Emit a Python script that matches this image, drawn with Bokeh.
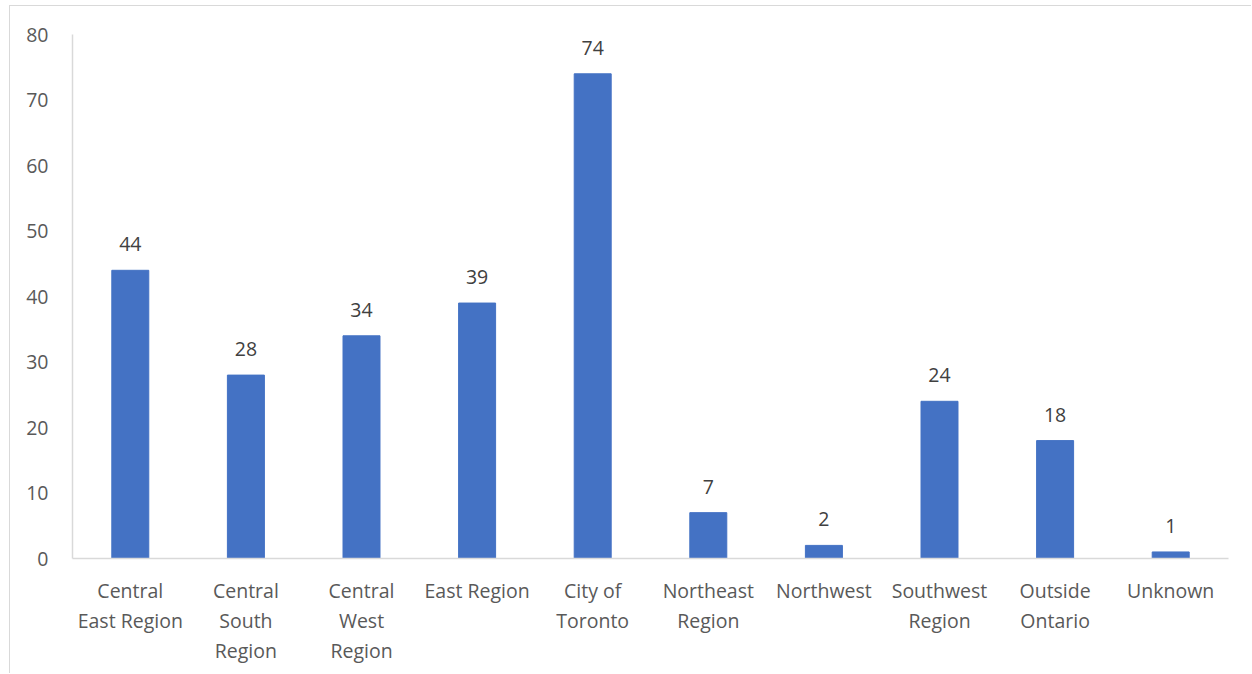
from bokeh.plotting import figure
from bokeh.models import ColumnDataSource, Range1d, FixedTicker
from bokeh.core.properties import value
from bokeh.embed import file_html
from bokeh.resources import INLINE

categories = ["Central\nEast Region", "Central\nSouth\nRegion", "Central\nWest\nRegion", "East Region",
              "City of\nToronto", "Northeast\nRegion", "Northwest", "Southwest\nRegion",
              "Outside\nOntario", "Unknown"]
counts = [44, 28, 34, 39, 74, 7, 2, 24, 18, 1]
y_ticks = [0, 10, 20, 30, 40, 50, 60, 70, 80]

src = ColumnDataSource(dict(cat=categories, val=counts, lab=[str(v) for v in counts]))

FONT = "Open Sans"
p = figure(x_range=categories, y_range=Range1d(0, 80), width=1242, height=668,
           output_backend="svg", toolbar_location=None,
           min_border_left=62, min_border_right=24, min_border_top=28, min_border_bottom=116)
p.styles = {"margin-left": "9px", "margin-top": "5px",
            "border-left": "1px solid #d9d9d9", "border-top": "1px solid #d9d9d9"}
p.outline_line_color = None
p.grid.visible = False
p.x_range.range_padding = 0

p.vbar(x="cat", top="val", width=0.32, source=src, color="#4472C4")
p.text(x="cat", y="val", text="lab", source=src, text_align="center", text_baseline="bottom",
       y_offset=-19, text_font=value(FONT), text_font_size="19.5px", text_color="#404040")

for ax in (p.xaxis[0], p.yaxis[0]):
    ax.axis_line_color = "#d9d9d9"
    ax.axis_line_width = 1.5
    ax.major_tick_line_color = None
    ax.minor_tick_line_color = None
    ax.major_label_text_font = FONT
    ax.major_label_text_font_size = "19.5px"
    ax.major_label_text_color = "#595959"

p.yaxis.ticker = FixedTicker(ticks=y_ticks)
p.yaxis.major_label_standoff = 18
p.xaxis.major_label_standoff = 12
p.xaxis.major_label_text_line_height = 1.12

open("out.html", "w").write(file_html(p, INLINE))
